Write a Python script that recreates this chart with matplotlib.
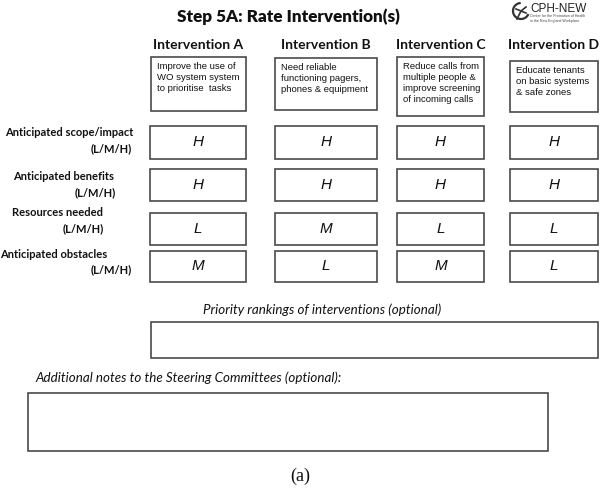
import matplotlib.pyplot as plt
import matplotlib.patches as mpatches
import numpy as np

# form content
title = "Step 5A: Rate Intervention(s)"
interventions = ["Intervention A", "Intervention B", "Intervention C", "Intervention D"]
descriptions = [
    "Improve the use of\nWO system system\nto prioritise  tasks",
    "Need reliable\nfunctioning pagers,\nphones & equipment",
    "Reduce calls from\nmultiple people &\nimprove screening\nof incoming calls",
    "Educate tenants\non basic systems\n& safe zones",
]
criteria = ["Anticipated scope/impact", "Anticipated benefits",
            "Resources needed", "Anticipated obstacles"]
scale_label = "(L/M/H)"
# ratings[row][column]
ratings = [
    ["H", "H", "H", "H"],
    ["H", "H", "H", "H"],
    ["L", "M", "L", "L"],
    ["M", "L", "M", "L"],
]
priority_label = "Priority rankings of interventions (optional)"
notes_label = "Additional notes to the Steering Committees (optional):"
caption = "(a)"

# layout in pixel coordinates (600 x 489 canvas)
col_x = [(150, 246), (275, 377), (397, 484), (510, 598)]
desc_y = [(58, 112), (59, 111), (58, 117), (62, 113)]
row_y = [(127, 160), (170, 202), (214, 246), (252, 283)]
label_pos = [((5, 133), (132, 149)), ((13, 177), (116, 193)),
             ((12, 213), (104, 229)), ((0, 254), (132, 270))]

EDGE = '#4a4a4a'
BOLD = 'Lato'
SANS = 'Liberation Sans'

fig = plt.figure(figsize=(6, 4.89), dpi=100)
ax = fig.add_axes([0, 0, 1, 1])
ax.set_xlim(0, 600)
ax.set_ylim(489, 0)
ax.axis('off')


def box(x0, x1, y0, y1):
    ax.add_patch(mpatches.Rectangle((x0, y0), x1 - x0, y1 - y0, fill=False,
                                    edgecolor=EDGE, linewidth=1.2))


ax.text(288, 17, title, ha='center', va='center', family=BOLD,
        fontweight='heavy', fontsize=12.3, color='#111111')

# logo
th = np.linspace(np.radians(100), np.radians(330), 30)
ax.plot(521 + 8 * np.cos(th), 12 - 8 * np.sin(th), color='#333333', lw=1.6)
ax.plot([517, 521, 526], [20, 12, 8], color='#333333', lw=1.2)
ax.plot([516, 526], [10, 14], color='#333333', lw=1.2)
ax.text(530, 9, "CPH-NEW", family=SANS, fontsize=8.5, color='#222222',
        ha='left', va='center')
ax.text(530, 18.5, "Center for the Promotion of Health\nin the New England Workplace",
        family=SANS, fontsize=2.6, color='#444444', ha='left', va='center',
        linespacing=1.1)

for i, name in enumerate(interventions):
    x0, x1 = col_x[i]
    xc = (x0 + x1) / 2
    ax.text(xc, 45, name, ha='center', va='center', family=BOLD,
            fontweight='bold', fontsize=10, color='#111111')
    dx0 = x0 + (1 if i == 0 else 0)
    dy0, dy1 = desc_y[i]
    box(dx0, x1, dy0, dy1)
    ax.text(dx0 + 6, dy0 + 4, descriptions[i], ha='left', va='top',
            family=SANS, fontsize=6.8, linespacing=1.3, color='#111111')
    for r in range(len(criteria)):
        y0, y1 = row_y[r]
        box(x0, x1, y0, y1)
        ax.text(xc, (y0 + y1) / 2 - 1, ratings[r][i], ha='center', va='center',
                family=SANS, style='italic', fontsize=11, color='#111111')

for r, crit in enumerate(criteria):
    (lx, ly), (sx, sy) = label_pos[r]
    ax.text(lx, ly, crit, ha='left', va='center', family=BOLD,
            fontweight='bold', fontsize=8, color='#111111')
    ax.text(sx, sy, scale_label, ha='right', va='center', family=BOLD,
            fontweight='bold', fontsize=8, color='#111111')

ax.text(322, 310, priority_label, ha='center', va='center', family=BOLD,
        style='italic', fontsize=9.6, color='#111111')
box(151, 598, 323, 359)

ax.text(35, 378, notes_label, ha='left', va='center', family=BOLD,
        style='italic', fontsize=9.6, color='#111111')
box(28, 548, 394, 452)

ax.text(300, 476, caption, ha='center', va='center', family='Liberation Serif',
        fontsize=13, color='#111111')

fig.savefig('out.png', dpi=100)
